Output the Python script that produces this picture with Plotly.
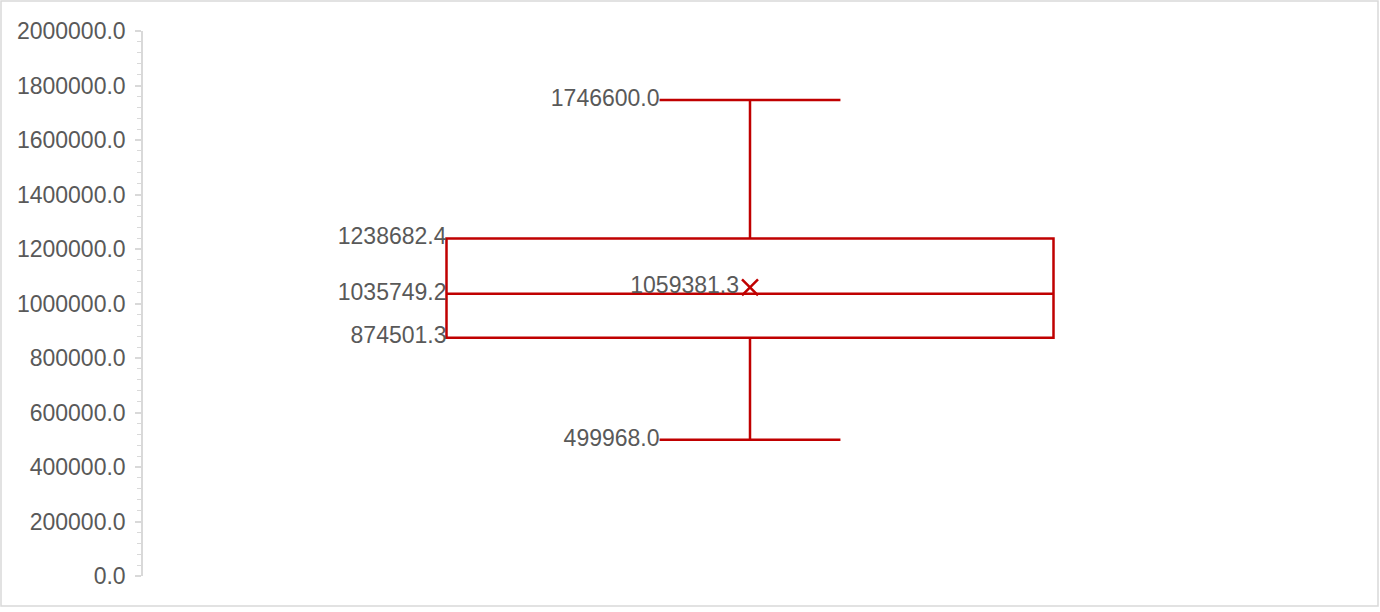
import plotly.graph_objects as go

# Data (summary statistics of the box plot)
category = ["Series1"]
q1 = [874501.3]
median = [1035749.2]
q3 = [1238682.4]
lower_whisker = [499968.0]
upper_whisker = [1746600.0]
mean = [1059381.3]

y_ticks = [0, 200000, 400000, 600000, 800000, 1000000, 1200000,
           1400000, 1600000, 1800000, 2000000]

RED = "#C00000"
GREY = "#595959"
FONT = "Liberation Sans"
FS = 23

box_w = 1.0
cap_frac = 0.298

fig = go.Figure()

fig.add_trace(go.Box(
    x=[0], q1=q1, median=median, q3=q3,
    lowerfence=lower_whisker, upperfence=upper_whisker,
    width=box_w, whiskerwidth=cap_frac,
    line=dict(color=RED, width=2.5),
    fillcolor="rgba(255,255,255,0)",
    boxpoints=False, name=category[0], hoverinfo="skip",
))

# mean marker + label
fig.add_trace(go.Scatter(
    x=[0], y=mean, mode="markers+text",
    marker=dict(symbol="x-thin", size=16, line=dict(color=RED, width=2.5), color=RED),
    text=[f"{v:.1f}" for v in mean], textposition="middle left",
    textfont=dict(family=FONT, size=FS, color=GREY), hoverinfo="skip",
))

# box labels (q3, median, q1) at left edge of the box
box_vals = q3 + median + q1
fig.add_trace(go.Scatter(
    x=[-box_w / 2] * 3, y=box_vals, mode="text",
    text=[f"{v:.1f}" for v in box_vals], textposition="middle left",
    textfont=dict(family=FONT, size=FS, color=GREY), hoverinfo="skip",
))

# whisker labels at left edge of caps
wh_vals = upper_whisker + lower_whisker
fig.add_trace(go.Scatter(
    x=[-box_w * cap_frac / 2] * 2, y=wh_vals, mode="text",
    text=[f"{v:.1f}" for v in wh_vals], textposition="middle left",
    textfont=dict(family=FONT, size=FS, color=GREY), hoverinfo="skip",
))

L, R, T, B = 143, 23, 31, 36
W, H = 1380, 612
pw, ph = W - L - R, H - T - B

fig.update_layout(
    width=W, height=H,
    margin=dict(l=L, r=R, t=T, b=B),
    paper_bgcolor="white", plot_bgcolor="white",
    showlegend=False,
    font=dict(family=FONT, size=FS, color=GREY),
    xaxis=dict(range=[-1, 1], visible=False, fixedrange=True),
    yaxis=dict(
        range=[0, 2000000], tickvals=y_ticks,
        ticktext=[f"{v:.1f}" for v in y_ticks],
        showgrid=False, zeroline=False,
        showline=True, linecolor="#D9D9D9", linewidth=1.5,
        ticks="outside", ticklen=6, tickcolor="#D9D9D9", tickwidth=1.5,
        ticklabelstandoff=5,
        minor=dict(dtick=40000, ticks="outside", ticklen=4, tickcolor="#D9D9D9", tickwidth=1),
        tickfont=dict(family=FONT, size=FS, color=GREY),
    ),
    shapes=[dict(
        type="rect", xref="paper", yref="paper",
        x0=(1 - L) / pw, x1=(W - 2 - L) / pw,
        y0=-(H - 6 - T - ph) / ph, y1=1 + (T - 1) / ph,
        line=dict(color="#D9D9D9", width=1.5), fillcolor="rgba(0,0,0,0)", layer="below",
    )],
)

fig.write_html("out.html", config={"displayModeBar": False},
               post_script="document.body.style.margin='0';")
